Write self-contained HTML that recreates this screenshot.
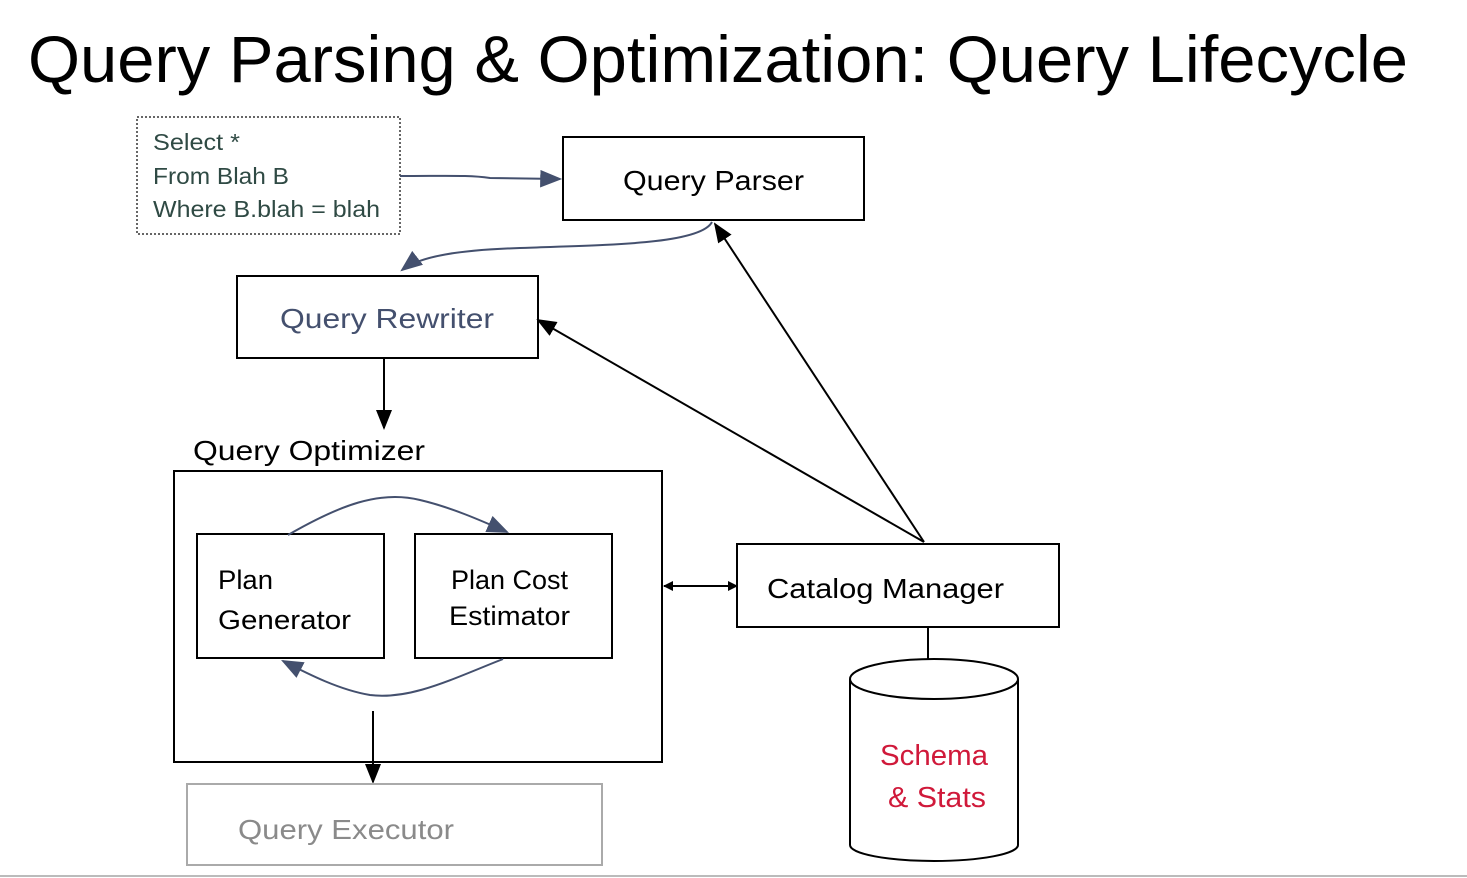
<!DOCTYPE html>
<html><head><meta charset="utf-8"><style>
html,body{margin:0;padding:0;background:#fff;width:1467px;height:878px;overflow:hidden}
svg text{font-family:"Liberation Sans",sans-serif}
</style></head><body>
<svg width="1467" height="878" viewBox="0 0 1467 878" xmlns="http://www.w3.org/2000/svg">
<defs>
<marker id="ab" viewBox="0 0 10 10" refX="9" refY="5" markerWidth="10" markerHeight="10" orient="auto-start-reverse" markerUnits="userSpaceOnUse"><path d="M0,0 L10,5 L0,10 z" fill="#000"/></marker>
<marker id="ab2" viewBox="0 0 10 10" refX="9" refY="5" markerWidth="20" markerHeight="20" orient="auto-start-reverse" markerUnits="userSpaceOnUse"><path d="M0,1 L10,5 L0,9 z" fill="#000"/></marker>
<marker id="an" viewBox="0 0 10 10" refX="9" refY="5" markerWidth="22" markerHeight="22" orient="auto" markerUnits="userSpaceOnUse"><path d="M0,1 L10,5 L0,9 z" fill="#44506e"/></marker>
</defs>
<text x="28" y="82" font-size="66" textLength="1380" lengthAdjust="spacingAndGlyphs">Query Parsing &amp; Optimization: Query Lifecycle</text>

<rect x="137" y="117" width="263" height="117" fill="none" stroke="#333" stroke-width="1.5" stroke-dasharray="2,2"/>
<g fill="#2f4a44" font-size="23">
<text x="153" y="150" textLength="87" lengthAdjust="spacingAndGlyphs">Select *</text>
<text x="153" y="184" textLength="136" lengthAdjust="spacingAndGlyphs">From Blah B</text>
<text x="153" y="217" textLength="227" lengthAdjust="spacingAndGlyphs">Where B.blah = blah</text>
</g>
<path d="M400,176 C450,176 470,175 490,178 L560,179" fill="none" stroke="#44506e" stroke-width="2" marker-end="url(#an)"/>

<rect x="563" y="137" width="301" height="83" fill="none" stroke="#000" stroke-width="2"/>
<text x="623" y="190" font-size="28" textLength="181" lengthAdjust="spacingAndGlyphs">Query Parser</text>

<path d="M712,222 C700,245 600,245 520,248 C460,250 420,256 402,270" fill="none" stroke="#44506e" stroke-width="2" marker-end="url(#an)"/>

<rect x="237" y="276" width="301" height="82" fill="none" stroke="#000" stroke-width="2"/>
<text x="280" y="328" font-size="28" fill="#44506e" textLength="214" lengthAdjust="spacingAndGlyphs">Query Rewriter</text>

<line x1="384" y1="358" x2="384" y2="428" stroke="#000" stroke-width="2" marker-end="url(#ab2)"/>
<text x="193" y="460" font-size="28" textLength="232" lengthAdjust="spacingAndGlyphs">Query Optimizer</text>

<rect x="174" y="471" width="488" height="291" fill="none" stroke="#000" stroke-width="2"/>
<rect x="197" y="534" width="187" height="124" fill="none" stroke="#000" stroke-width="2"/>
<text x="218" y="589" font-size="27" textLength="55" lengthAdjust="spacingAndGlyphs">Plan</text>
<text x="218" y="629" font-size="27" textLength="133" lengthAdjust="spacingAndGlyphs">Generator</text>
<rect x="415" y="534" width="197" height="124" fill="none" stroke="#000" stroke-width="2"/>
<text x="451" y="589" font-size="27" textLength="117" lengthAdjust="spacingAndGlyphs">Plan Cost</text>
<text x="449" y="625" font-size="27" textLength="121" lengthAdjust="spacingAndGlyphs">Estimator</text>

<path d="M288,535 C340,505 380,490 420,500 C450,507 480,520 507,532" fill="none" stroke="#44506e" stroke-width="2" marker-end="url(#an)"/>
<path d="M503,659 C450,680 410,700 370,695 C340,690 310,675 283,661" fill="none" stroke="#44506e" stroke-width="2" marker-end="url(#an)"/>

<line x1="373" y1="711" x2="373" y2="782" stroke="#000" stroke-width="2" marker-end="url(#ab2)"/>
<rect x="187" y="784" width="415" height="81" fill="none" stroke="#aaa" stroke-width="2"/>
<text x="238" y="839" font-size="28" fill="#8a8a8a" textLength="216" lengthAdjust="spacingAndGlyphs">Query Executor</text>

<line x1="664" y1="586" x2="737" y2="586" stroke="#000" stroke-width="2" marker-start="url(#ab)" marker-end="url(#ab)"/>
<rect x="737" y="544" width="322" height="83" fill="none" stroke="#000" stroke-width="2"/>
<text x="767" y="598" font-size="28" textLength="237" lengthAdjust="spacingAndGlyphs">Catalog Manager</text>

<line x1="924" y1="542" x2="715" y2="224" stroke="#000" stroke-width="2" marker-end="url(#ab2)"/>
<line x1="924" y1="542" x2="538" y2="320" stroke="#000" stroke-width="2" marker-end="url(#ab2)"/>

<line x1="928" y1="627" x2="928" y2="659" stroke="#000" stroke-width="2"/>
<path d="M850,679 L850,845 A84,16 0 0 0 1018,845 L1018,679" fill="#fff" stroke="#000" stroke-width="2"/>
<ellipse cx="934" cy="679" rx="84" ry="20" fill="#fff" stroke="#000" stroke-width="2"/>
<text x="880" y="765" font-size="29" fill="#d0193a" textLength="108" lengthAdjust="spacingAndGlyphs">Schema</text>
<text x="888" y="807" font-size="29" fill="#d0193a" textLength="98" lengthAdjust="spacingAndGlyphs">&amp; Stats</text>
<line x1="0" y1="876" x2="1467" y2="876" stroke="#bbb" stroke-width="2"/>
</svg>
</body></html>
